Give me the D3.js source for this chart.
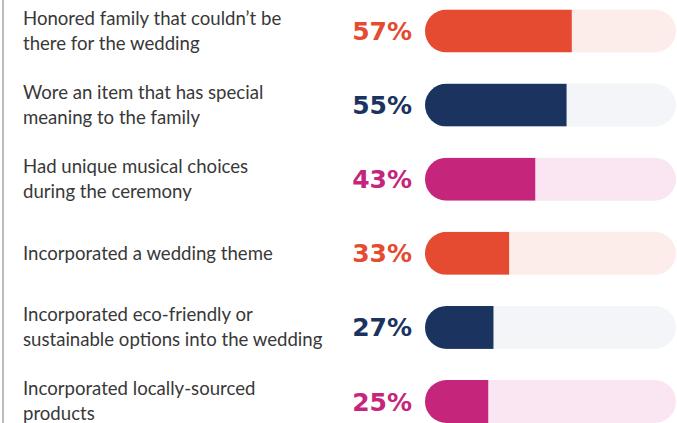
<!DOCTYPE html>
<html>
<head>
<meta charset="utf-8">
<script src="https://cdn.jsdelivr.net/npm/d3@7"></script>
<style>
  html, body { margin: 0; padding: 0; background: #fff; }
  svg { display: block; }
</style>
</head>
<body>
<script>
// Survey answers, shares of couples (%)
const labelLines = [
  ["Honored family that couldn’t be", "there for the wedding"],
  ["Wore an item that has special", "meaning to the family"],
  ["Had unique musical choices", "during the ceremony"],
  ["Incorporated a wedding theme"],
  ["Incorporated eco-friendly or", "sustainable options into the wedding"],
  ["Incorporated locally-sourced", "products"]
];
const values = [57, 55, 43, 33, 27, 25];
const palette = ["coral", "navy", "magenta", "coral", "navy", "magenta"];

const colors = {
  coral:   { fill: "#E54B31", track: "#FDEDEA" },
  navy:    { fill: "#1B335F", track: "#F3F5F9" },
  magenta: { fill: "#C5257B", track: "#F9E6F2" }
};

const W = 677, H = 423;
const barH = 43;
const trackX0 = 425, trackX1 = 676;

const svg = d3.select("body").append("svg")
  .attr("width", W).attr("height", H);

const y = d3.scalePoint().domain(d3.range(values.length)).range([31, 401.5]);
const x = d3.scaleLinear().domain([0, 100]).range([423, 684]);

// thin rule on the left edge
svg.append("line")
  .attr("x1", 3).attr("x2", 3).attr("y1", 0).attr("y2", H)
  .attr("stroke", "#8f8f8f").attr("stroke-width", 1.2);

const defs = svg.append("defs");
const rows = svg.selectAll("g.row").data(values).join("g").attr("class", "row");

rows.each(function(v, i) {
  const g = d3.select(this);
  const cy = y(i);
  const c = colors[palette[i]];
  const id = "track-" + i;

  defs.append("clipPath").attr("id", id)
    .append("rect")
    .attr("x", trackX0).attr("y", cy - barH / 2)
    .attr("width", trackX1 - trackX0).attr("height", barH)
    .attr("rx", barH / 2);

  g.append("rect")
    .attr("x", trackX0).attr("y", cy - barH / 2)
    .attr("width", trackX1 - trackX0).attr("height", barH)
    .attr("rx", barH / 2)
    .attr("fill", c.track);

  g.append("rect")
    .attr("clip-path", `url(#${id})`)
    .attr("x", x(0)).attr("y", cy - barH / 2)
    .attr("width", x(v) - x(0)).attr("height", barH)
    .attr("fill", c.fill);

  g.append("text")
    .attr("x", 412).attr("y", cy + 9)
    .attr("text-anchor", "end")
    .attr("font-family", "'DejaVu Sans', sans-serif")
    .attr("font-weight", 700)
    .attr("font-size", 25)
    .attr("fill", c.fill)
    .text(v + "%");

  const lines = labelLines[i];
  const lh = 25;
  const t = g.append("text")
    .attr("font-family", "Lato, sans-serif")
    .attr("font-size", 18.6)
    .attr("fill", "#383838");
  lines.forEach((s, k) => {
    t.append("tspan")
      .attr("x", 23)
      .attr("y", cy + 6.4 + (k - (lines.length - 1) / 2) * lh)
      .text(s);
  });
});
</script>
</body>
</html>
